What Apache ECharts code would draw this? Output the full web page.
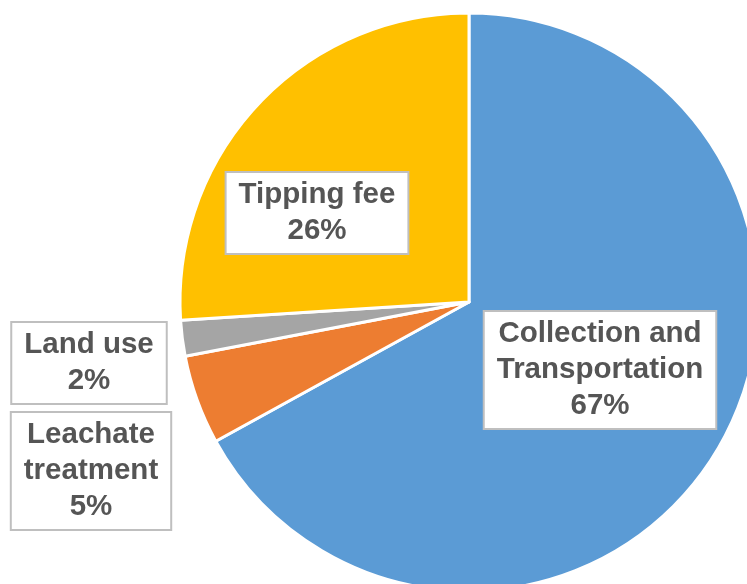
<!DOCTYPE html>
<html>
<head>
<meta charset="utf-8">
<script src="https://cdn.jsdelivr.net/npm/echarts@6/dist/echarts.min.js"></script>
<style>
html,body{margin:0;padding:0;background:#fff;}
#chart{width:747px;height:584px;}
</style>
</head>
<body>
<div id="chart"></div>
<script>
const categories = ['Collection and\nTransportation', 'Leachate\ntreatment', 'Land use', 'Tipping fee'];
const values = [67, 5, 2, 26];
const colors = ['#5B9BD5', '#ED7D31', '#A5A5A5', '#FFC000'];

const labelSpots = [[600, 370], [91, 471], [89, 363], [317, 213]];

const chart = echarts.init(document.getElementById('chart'));
chart.setOption({
  animation: false,
  backgroundColor: '#ffffff',
  series: [{
    type: 'pie',
    center: [469, 302],
    radius: 289,
    startAngle: 90,
    clockwise: true,
    avoidLabelOverlap: false,
    itemStyle: { borderColor: '#ffffff', borderWidth: 3 },
    label: {
      show: true,
      position: 'inside',
      formatter: function (p) { return p.name + '\n' + values[p.dataIndex] + '%'; },
      fontFamily: 'Liberation Sans, Arial, sans-serif',
      fontWeight: 'bold',
      fontSize: 29.5,
      lineHeight: 36,
      color: '#555555',
      backgroundColor: '#ffffff',
      borderColor: '#bfbfbf',
      borderWidth: 2,
      padding: [4, 12],
      align: 'center'
    },
    labelLine: { show: false },
    labelLayout: function (params) {
      const s = labelSpots[params.dataIndex];
      return { x: s[0], y: s[1], align: 'center', verticalAlign: 'middle' };
    },
    data: categories.map(function (c, i) {
      return { name: c, value: values[i], itemStyle: { color: colors[i] } };
    })
  }]
});
</script>
</body>
</html>
